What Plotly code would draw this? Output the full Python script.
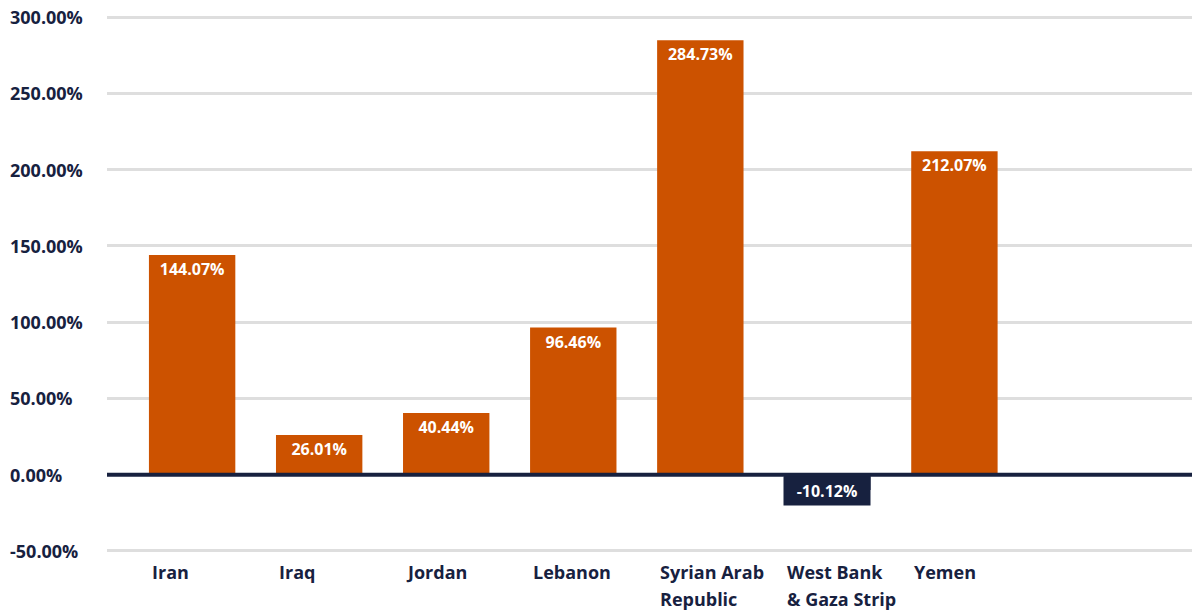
import plotly.graph_objects as go

categories = ["Iran", "Iraq", "Jordan", "Lebanon", "Syrian Arab Republic", "West Bank & Gaza Strip", "Yemen"]
category_labels = ["Iran", "Iraq", "Jordan", "Lebanon", "Syrian Arab<br>Republic", "West Bank<br>& Gaza Strip", "Yemen"]
values = [144.07, 26.01, 40.44, 96.46, 284.73, -10.12, 212.07]
tick_values = [-50, 0, 50, 100, 150, 200, 250, 300]
tick_labels = ["-50.00%", "0.00%", "50.00%", "100.00%", "150.00%", "200.00%", "250.00%", "300.00%"]

ORANGE = "#cc5200"
NAVY = "#17213f"
GRID = "#dedede"

colors = [ORANGE if v >= 0 else NAVY for v in values]
texts = [f"{v:.2f}%" for v in values]
textpos = ["inside" if v >= 0 else "none" for v in values]

fig = go.Figure(go.Bar(
    x=categories,
    y=values,
    marker=dict(color=colors, line=dict(width=0)),
    width=0.68,
    text=texts,
    textposition=textpos,
    insidetextanchor="end",
    constraintext="none",
    textangle=0,
    textfont=dict(family="Open Sans", size=16, color="white", weight="bold"),
    hoverinfo="skip",
))

annotations = []
# labels for negative bars: navy box hanging below the zero line
for cat, v, t in zip(categories, values, texts):
    if v < 0:
        annotations.append(dict(
            x=cat, xref="x", y=0, yref="y", yanchor="top", yshift=-1,
            text=t, showarrow=False, bgcolor=NAVY, width=86, height=28,
            borderpad=0, valign="middle",
            font=dict(family="Open Sans", size=16, color="white", weight="bold"),
        ))
for cat, lab in zip(categories, category_labels):
    for i, line in enumerate(lab.split("<br>")):
        annotations.append(dict(
            x=cat, xref="x", y=-52, yref="y", yanchor="top", yshift=-4 - 27 * i,
            xanchor="left", xshift=-42, align="left",
            text=line, showarrow=False,
            font=dict(family="Open Sans", size=18, color=NAVY, weight="bold"),
        ))
for tv, tl in zip(tick_values, tick_labels):
    annotations.append(dict(
        x=-0.0912, xref="paper", y=tv, yref="y", yanchor="middle",
        xanchor="left", align="left",
        text=tl, showarrow=False,
        font=dict(family="Open Sans", size=18, color=NAVY, weight="bold"),
    ))

fig.update_layout(
    width=1192, height=614,
    margin=dict(l=107, r=0, t=14, b=60),
    plot_bgcolor="white", paper_bgcolor="white",
    showlegend=False,
    xaxis=dict(range=[-0.67, 7.87], showticklabels=False, showgrid=False,
               zeroline=False, showline=False, ticks=""),
    yaxis=dict(range=[-52, 302], tickvals=tick_values, showticklabels=False,
               showgrid=True, gridcolor=GRID, gridwidth=2.5,
               zeroline=False, showline=False, ticks=""),
    annotations=annotations,
    shapes=[dict(type="line", xref="paper", x0=0, x1=1, yref="y", y0=0, y1=0,
                 line=dict(color=NAVY, width=4), layer="above")],
)

fig.write_html("out.html", config={"displayModeBar": False},
               post_script="document.body.style.margin='0';document.body.style.overflow='hidden';")
